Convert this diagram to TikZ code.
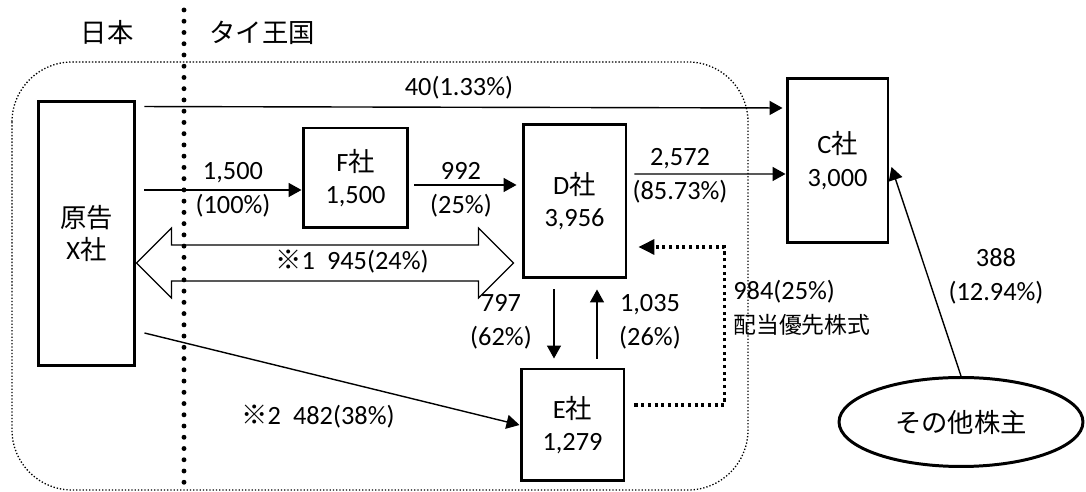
\documentclass[tikz,border=0pt]{standalone}
\usepackage{fontspec}
\setmainfont{Carlito}
\newfontfamily\jp{Noto Sans CJK JP}
\usetikzlibrary{shapes.geometric, arrows.meta, calc}

\begin{document}
\begin{tikzpicture}[
  x=0.02cm, y=-0.02cm,
  every node/.style={font=\fontsize{15}{18.5}\selectfont, align=center, inner sep=0pt},
  cbox/.style={draw, line width=1.7pt},
  numlabel/.style={font=\fontsize{15}{19.5}\selectfont},
  flow/.style={line width=0.8pt, -{Triangle[length=7.4pt, width=8pt]}},
  prefline/.style={line width=1.8pt, dash pattern=on 1.8pt off 2pt,
                   -{Triangle[length=9pt, width=8.5pt]}},
  fatarrow/.style={line width=0.7pt, line join=miter}
]
  \useasboundingbox (0,0) rectangle (1086,492);

  % Group region and the border
  \draw[line width=0.75pt, dash pattern=on 0.75pt off 1.1pt, rounded corners=1.2cm]
    (12,62) rectangle (748,490);
  \draw[line width=2.8pt, dash pattern=on 0pt off 6.4pt, line cap=round]
    (184,10) -- (184,488);
  \node (japan) at (107,33) {\jp 日本};
  \node (thai) at (262,33) {\jp タイ王国};

  % Companies
  \node[cbox, minimum width=1.94cm, minimum height=5.3cm] (X) at (86.5,233.5)
    {{\jp 原告}\\X{\jp 社}};
  \node[cbox, minimum width=2.1cm, minimum height=2.0cm] (F) at (355.5,178)
    {F{\jp 社}\\1,500};
  \node[cbox, minimum width=2.06cm, minimum height=3.08cm] (D) at (574.5,201)
    {D{\jp 社}\\3,956};
  \node[cbox, minimum width=2.06cm, minimum height=2.24cm] (E) at (572.5,425)
    {E{\jp 社}\\1,279};
  \node[cbox, minimum width=2.02cm, minimum height=3.3cm] (C) at (837.5,160.5)
    {C{\jp 社}\\3,000};
  \node[cbox, ellipse, minimum width=4.88cm, minimum height=1.78cm] (O) at (961,422)
    {\jp その他株主};

  % Shareholdings
  \draw[flow, shorten >=0.06cm] ($(X.north east)+(8,7)$) -- ($(C.west)+(0,-52.5)$);
  \node[numlabel] (l40) at (459,88) {40(1.33\%)};

  \draw[flow] ($(X.east)+(8,-43.5)$) -- ($(F.west)+(0,12)$);
  \node[numlabel] (l1500) at (233,190) {1,500\\(100\%)};

  \draw[flow] ($(F.east)+(5,7)$) -- ($(D.west)+(-5,-16)$);
  \node[numlabel] (l992) at (461,190) {992\\(25\%)};

  \draw[flow] ($(D.east)+(7,-27)$) -- ($(C.west)+(0,13.5)$);
  \node[numlabel] (l2572) at (680,175.5) {2,572\\(85.73\%)};

  \draw[flow] ($(D.south)+(-20.5,10)$) -- ($(E.north)+(-18.5,-9)$);
  \node[numlabel] (l797) at (501,321.5) {797\\(62\%)};

  \draw[flow] ($(E.north)+(24.5,-9)$) -- ($(D.south)+(22.5,10)$);
  \node[numlabel] (l1035) at (650,321.5) {1,035\\(26\%)};

  \draw[flow] ($(X.east)+(8,99.5)$) -- (E.west);
  \node (l482) at (318,417) {{\jp ※}2\ \ 482(38\%)};

  \draw[flow] (O.north) -- ($(C.east)+(2,6.5)$);
  \node[numlabel] (l388) at (996,276.5) {388\\(12.94\%)};

  % Preferred shares E -> D
  \draw[prefline] ($(E.east)+(9,-20)$) -| ($(D.east)+(97,46)$) -- ($(D.east)+(11,46)$);
  \node[anchor=west] (l984) at (733,292) {984(25\%)};
  \node[anchor=west, font=\fontsize{13}{16}\selectfont] (lpref) at (733,325)
    {\jp 配当優先株式};

  % Cross holding X <-> D
  \coordinate (xl) at ($(X.east)+(0,29.5)$);
  \coordinate (xr) at ($(D.west)+(-8,62)$);
  \draw[fatarrow] (xl) -- ++(35,-35) -- ++(0,17) -- ($(xr)+(-35,-18)$) -- ++(0,-17)
    -- (xr) -- ++(-35,35) -- ++(0,-17) -- ($(xl)+(35,18)$) -- ++(0,17) -- cycle;
  \node (l945) at (352,262) {{\jp ※}1\ \ 945(24\%)};
\end{tikzpicture}
\end{document}
